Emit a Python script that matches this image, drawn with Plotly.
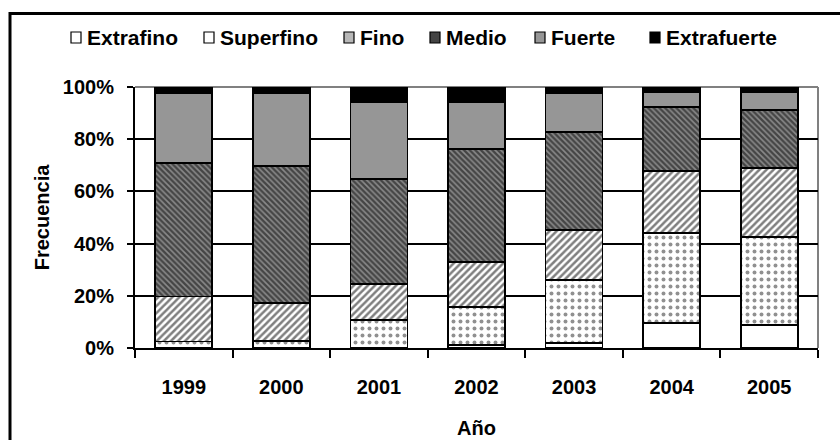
import plotly.graph_objects as go

years = ["1999", "2000", "2001", "2002", "2003", "2004", "2005"]
series_names = ["Extrafino", "Superfino", "Fino", "Medio", "Fuerte", "Extrafuerte"]
extrafino   = [0.0, 0.0, 0.0, 1.0, 1.8, 9.7, 8.8]
superfino   = [2.5, 2.7, 10.7, 14.8, 24.2, 34.5, 33.6]
fino        = [17.2, 14.4, 13.8, 17.3, 19.2, 23.7, 26.5]
medio       = [51.1, 52.6, 40.1, 43.0, 37.7, 24.3, 22.3]
fuerte      = [26.8, 27.9, 29.8, 18.3, 14.7, 6.0, 7.0]
extrafuerte = [2.4, 2.4, 5.6, 5.6, 2.4, 1.8, 1.8]
y_ticks = [0, 20, 40, 60, 80, 100]
y_tick_labels = ["0%", "20%", "40%", "60%", "80%", "100%"]

values = [extrafino, superfino, fino, medio, fuerte, extrafuerte]
styles = [
    dict(color="white"),
    dict(color="white", pattern=dict(shape=".", fgcolor="#222", bgcolor="white", size=7, solidity=0.25)),
    dict(color="white", pattern=dict(shape="/", fgcolor="#000", bgcolor="white", size=5, solidity=0.5)),
    dict(color="#444", pattern=dict(shape="\\", fgcolor="#000", bgcolor="#8a8a8a", size=4, solidity=0.6)),
    dict(color="#969696"),
    dict(color="black"),
]
legend_swatch = ["white", "white", "#b8b8b8", "#444444", "#969696", "black"]

# plot area in pixels (for converting legend placement to paper units)
L, R, T, B = 135, 818, 87, 348
W, H = 840, 440
def px(x):
    return (x - L) / (R - L)
def py(y):
    return (B - y) / (B - T)

FONT = "Liberation Sans, Arial, sans-serif"
fig = go.Figure()
for name, vals, st in zip(series_names, values, styles):
    marker = dict(st)
    marker["line"] = dict(color="black", width=1.8)
    fig.add_trace(go.Bar(x=years, y=vals, name=name, marker=marker, showlegend=False))

# custom compact legend (symbol + text)
sym_left = [71, 204, 344, 430, 535, 650]
shapes = []
annotations = []
for name, sx, col in zip(series_names, sym_left, legend_swatch):
    shapes.append(dict(type="rect", xref="paper", yref="paper",
                       x0=px(sx), x1=px(sx + 10), y0=py(43), y1=py(32),
                       fillcolor=col, line=dict(color="black", width=1.2)))
    annotations.append(dict(text=name, xref="paper", yref="paper", x=px(sx + 14), y=py(37.5),
                            xanchor="left", yanchor="middle", showarrow=False,
                            font=dict(size=21, weight="bold", family=FONT)))

shapes += [
    dict(type="line", xref="paper", yref="paper", x0=0, x1=1, y0=1, y1=1,
         line=dict(color="#808080", width=2), layer="below"),
    dict(type="line", xref="paper", yref="paper", x0=1, x1=1, y0=0, y1=1,
         line=dict(color="#808080", width=2), layer="below"),
    dict(type="rect", xref="paper", yref="paper", x0=px(10), x1=px(860), y0=py(470), y1=py(13.5),
         line=dict(color="black", width=3)),
]

fig.update_layout(
    barmode="stack",
    bargap=0.416,
    width=W, height=H,
    margin=dict(l=L, r=W - R, t=T, b=H - B, autoexpand=False),
    paper_bgcolor="white", plot_bgcolor="white",
    font=dict(family=FONT, size=20, color="black", weight="bold"),
    showlegend=False,
    xaxis=dict(showgrid=False, showline=True, linecolor="black", linewidth=2, automargin=False,
               ticks="outside", tickson="boundaries", ticklen=8, tickwidth=2, tickcolor="black",
               ticklabelstandoff=20,
               title=dict(text="Año", font=dict(size=20, weight="bold"), standoff=24)),
    yaxis=dict(range=[0, 100], tickvals=y_ticks, ticktext=y_tick_labels, showgrid=True,
               gridcolor="black", gridwidth=1.5, showline=True, linecolor="black", linewidth=2,
               automargin=False,
               ticks="outside", ticklen=6, tickwidth=2, tickcolor="black", zeroline=False,
               ticklabelstandoff=9,
               title=dict(text="Frecuencia", font=dict(size=20, weight="bold"), standoff=8)),
    shapes=shapes,
    annotations=annotations,
)

fig.write_html("out.html")
